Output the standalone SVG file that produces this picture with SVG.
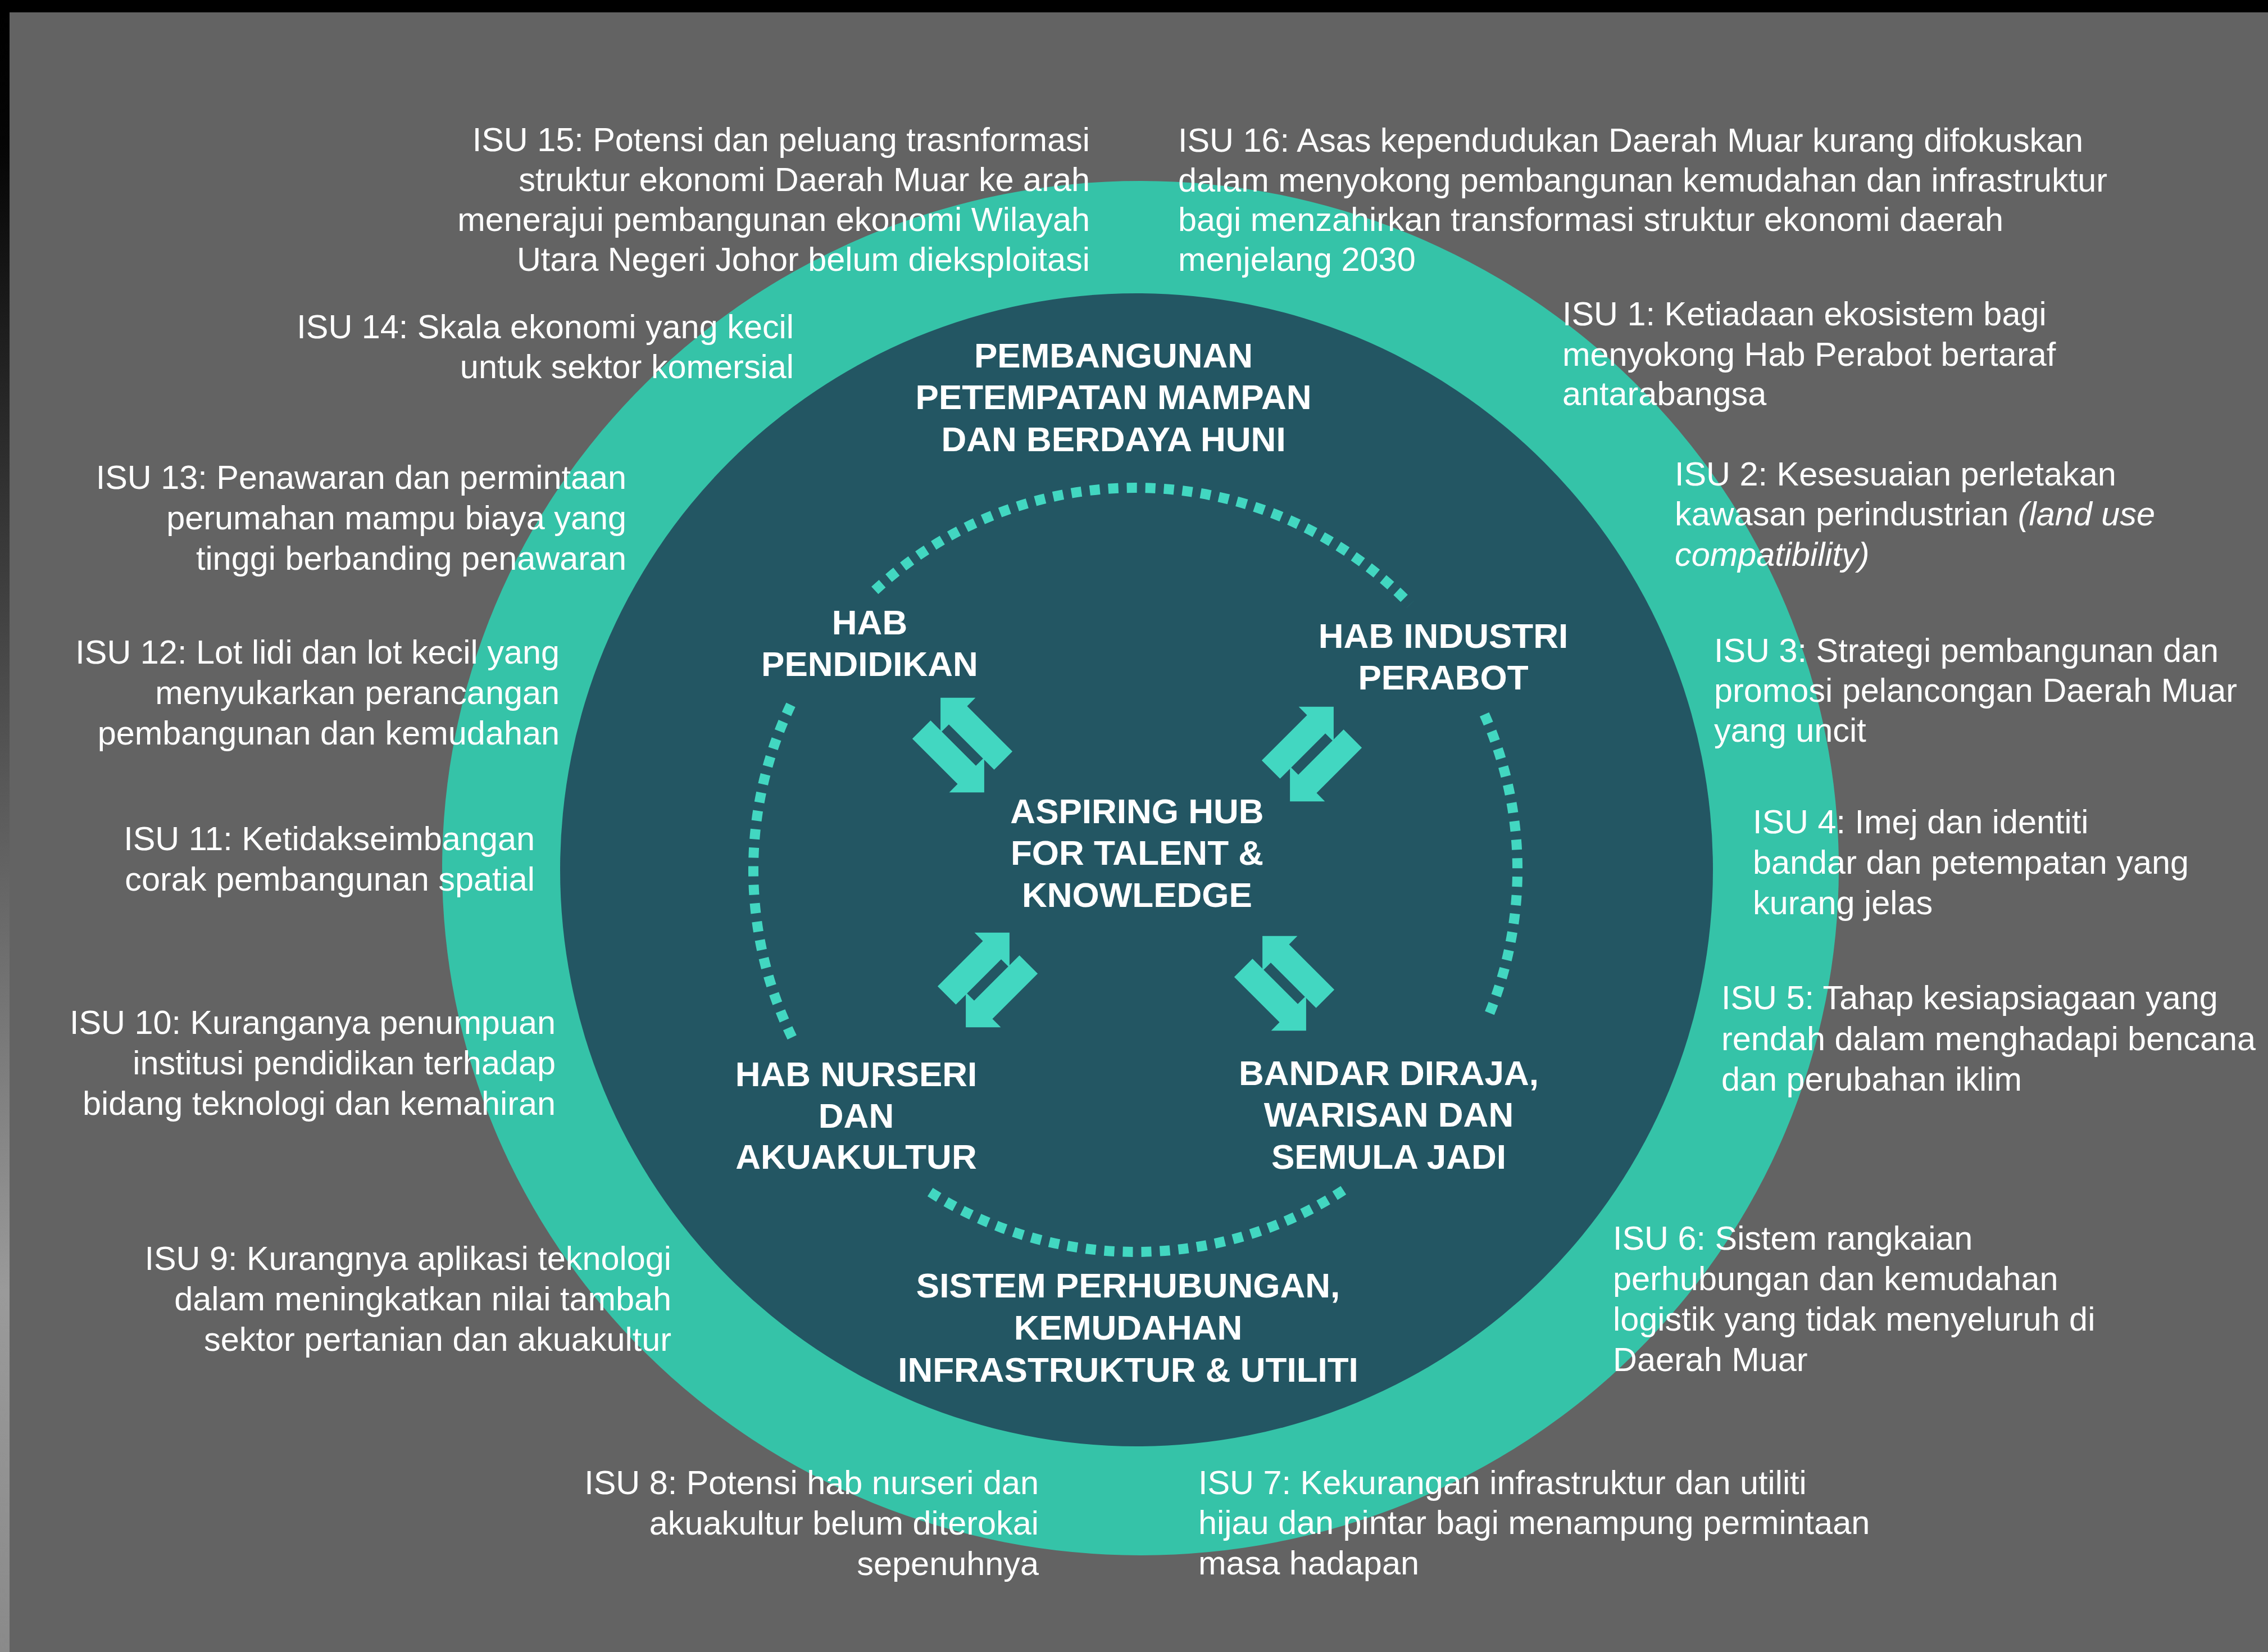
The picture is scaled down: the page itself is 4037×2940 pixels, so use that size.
<svg xmlns="http://www.w3.org/2000/svg" width="4037" height="2940" viewBox="0 0 4037 2940">
<defs>
<linearGradient id="strip" x1="0" y1="0" x2="0" y2="1">
<stop offset="0" stop-color="#000000"/>
<stop offset="0.08" stop-color="#050505"/>
<stop offset="0.78" stop-color="#9a9a9a"/>
<stop offset="1" stop-color="#8a8a8a"/>
</linearGradient>
<g id="pair">
<polygon points="-87,-32 -43,-76 -43,-55 71,-55 71,-9 -43,-9 -43,12"/>
<polygon points="87,32 43,76 43,55 -71,55 -71,9 43,9 43,-12"/>
</g>
</defs>
<style>
.isu{font-family:"Liberation Sans",Arial,sans-serif;font-size:59.4px;fill:#ffffff}
.r{text-anchor:end}
.hub{font-family:"Liberation Sans",Arial,sans-serif;font-size:62px;font-weight:bold;fill:#ffffff;text-anchor:middle}
.dash{fill:none;stroke:#42D7C1;stroke-width:18;stroke-dasharray:18 15}
.arrow{fill:#42D7C1}
</style>
<rect x="0" y="0" width="4037" height="2940" fill="#636363"/>
<rect x="0" y="0" width="4037" height="22" fill="#000000"/>
<rect x="0" y="22" width="17" height="2918" fill="url(#strip)"/>
<g id="rings">
<ellipse cx="2030" cy="1545" rx="1243" ry="1223" fill="#35C3A8"/>
<circle cx="2023" cy="1548" r="1026" fill="#235663"/>
</g>
<g id="connectors">
<path class="dash" d="M1557.2,1050.7 A680,680 0 0 1 2510.1,1075.6"/>
<path class="dash" d="M1409.8,1846.1 A680,680 0 0 1 1409.8,1249.9"/>
<path class="dash" d="M2391.3,2118.3 A680,680 0 0 1 1650.7,2118.3"/>
<path class="dash" d="M2642.2,1271.4 A680,680 0 0 1 2647,1813.7"/>
<use href="#pair" class="arrow" transform="translate(1713,1326) rotate(45)"/>
<use href="#pair" class="arrow" transform="translate(2335,1342) rotate(-45) scale(-1,1)"/>
<use href="#pair" class="arrow" transform="translate(1758,1744) rotate(-45) scale(-1,1)"/>
<use href="#pair" class="arrow" transform="translate(2286,1750) rotate(45)"/>
</g>
<g id="hub-center">
<text class="hub" x="2024" y="1465">ASPIRING HUB</text>
<text class="hub" x="2024" y="1539">FOR TALENT &amp;</text>
<text class="hub" x="2024" y="1614">KNOWLEDGE</text>
</g>
<g id="hub-pembangunan">
<text class="hub" x="1982" y="654">PEMBANGUNAN</text>
<text class="hub" x="1982" y="728">PETEMPATAN MAMPAN</text>
<text class="hub" x="1982" y="803">DAN BERDAYA HUNI</text>
</g>
<g id="hub-pendidikan">
<text class="hub" x="1548" y="1129">HAB</text>
<text class="hub" x="1548" y="1203">PENDIDIKAN</text>
</g>
<g id="hub-perabot">
<text class="hub" x="2569" y="1153">HAB INDUSTRI</text>
<text class="hub" x="2569" y="1227">PERABOT</text>
</g>
<g id="hub-nurseri">
<text class="hub" x="1524" y="1933">HAB NURSERI</text>
<text class="hub" x="1524" y="2007">DAN</text>
<text class="hub" x="1524" y="2080">AKUAKULTUR</text>
</g>
<g id="hub-bandar">
<text class="hub" x="2472" y="1931">BANDAR DIRAJA,</text>
<text class="hub" x="2472" y="2005">WARISAN DAN</text>
<text class="hub" x="2472" y="2080">SEMULA JADI</text>
</g>
<g id="hub-sistem">
<text class="hub" x="2008" y="2309">SISTEM PERHUBUNGAN,</text>
<text class="hub" x="2008" y="2384">KEMUDAHAN</text>
<text class="hub" x="2008" y="2459">INFRASTRUKTUR &amp; UTILITI</text>
</g>
<g id="isu15">
<text class="isu r" x="1940" y="269">ISU 15: Potensi dan peluang trasnformasi</text>
<text class="isu r" x="1940" y="340">struktur ekonomi Daerah Muar ke arah</text>
<text class="isu r" x="1940" y="411">menerajui pembangunan ekonomi Wilayah</text>
<text class="isu r" x="1940" y="482">Utara Negeri Johor belum dieksploitasi</text>
</g>
<g id="isu16">
<text class="isu" x="2097" y="270">ISU 16: Asas kependudukan Daerah Muar kurang difokuskan</text>
<text class="isu" x="2097" y="341">dalam menyokong pembangunan kemudahan dan infrastruktur</text>
<text class="isu" x="2097" y="411">bagi menzahirkan transformasi struktur ekonomi daerah</text>
<text class="isu" x="2097" y="482">menjelang 2030</text>
</g>
<g id="isu14">
<text class="isu r" x="1413" y="602">ISU 14: Skala ekonomi yang kecil</text>
<text class="isu r" x="1413" y="673">untuk sektor komersial</text>
</g>
<g id="isu1">
<text class="isu" x="2781" y="579">ISU 1: Ketiadaan ekosistem bagi</text>
<text class="isu" x="2781" y="651">menyokong Hab Perabot bertaraf</text>
<text class="isu" x="2781" y="721">antarabangsa</text>
</g>
<g id="isu13">
<text class="isu r" x="1115" y="870">ISU 13: Penawaran dan permintaan</text>
<text class="isu r" x="1115" y="942">perumahan mampu biaya yang</text>
<text class="isu r" x="1115" y="1014">tinggi berbanding penawaran</text>
</g>
<g id="isu2">
<text class="isu" x="2981" y="864">ISU 2: Kesesuaian perletakan</text>
<text class="isu" x="2981" y="935">kawasan perindustrian <tspan font-style="italic">(land use</tspan></text>
<text class="isu" x="2981" y="1007" font-style="italic">compatibility)</text>
</g>
<g id="isu12">
<text class="isu r" x="996" y="1181">ISU 12: Lot lidi dan lot kecil yang</text>
<text class="isu r" x="996" y="1253">menyukarkan perancangan</text>
<text class="isu r" x="996" y="1325">pembangunan dan kemudahan</text>
</g>
<g id="isu3">
<text class="isu" x="3051" y="1178">ISU 3: Strategi pembangunan dan</text>
<text class="isu" x="3051" y="1249">promosi pelancongan Daerah Muar</text>
<text class="isu" x="3051" y="1320">yang uncit</text>
</g>
<g id="isu11">
<text class="isu r" x="952" y="1513">ISU 11: Ketidakseimbangan</text>
<text class="isu r" x="952" y="1585">corak pembangunan spatial</text>
</g>
<g id="isu4">
<text class="isu" x="3120" y="1483">ISU 4: Imej dan identiti</text>
<text class="isu" x="3120" y="1555">bandar dan petempatan yang</text>
<text class="isu" x="3120" y="1627">kurang jelas</text>
</g>
<g id="isu10">
<text class="isu r" x="989" y="1840">ISU 10: Kuranganya penumpuan</text>
<text class="isu r" x="989" y="1912">institusi pendidikan terhadap</text>
<text class="isu r" x="989" y="1984">bidang teknologi dan kemahiran</text>
</g>
<g id="isu5">
<text class="isu" x="3064" y="1796">ISU 5: Tahap kesiapsiagaan yang</text>
<text class="isu" x="3064" y="1869">rendah dalam menghadapi bencana</text>
<text class="isu" x="3064" y="1941">dan perubahan iklim</text>
</g>
<g id="isu9">
<text class="isu r" x="1195" y="2260">ISU 9: Kurangnya aplikasi teknologi</text>
<text class="isu r" x="1195" y="2332">dalam meningkatkan nilai tambah</text>
<text class="isu r" x="1195" y="2404">sektor pertanian dan akuakultur</text>
</g>
<g id="isu6">
<text class="isu" x="2871" y="2224">ISU 6: Sistem rangkaian</text>
<text class="isu" x="2871" y="2296">perhubungan dan kemudahan</text>
<text class="isu" x="2871" y="2368">logistik yang tidak menyeluruh di</text>
<text class="isu" x="2871" y="2440">Daerah Muar</text>
</g>
<g id="isu8">
<text class="isu r" x="1849" y="2659">ISU 8: Potensi hab nurseri dan</text>
<text class="isu r" x="1849" y="2731">akuakultur belum diterokai</text>
<text class="isu r" x="1849" y="2803">sepenuhnya</text>
</g>
<g id="isu7">
<text class="isu" x="2133" y="2659">ISU 7: Kekurangan infrastruktur dan utiliti</text>
<text class="isu" x="2133" y="2730">hijau dan pintar bagi menampung permintaan</text>
<text class="isu" x="2133" y="2802">masa hadapan</text>
</g>
</svg>
